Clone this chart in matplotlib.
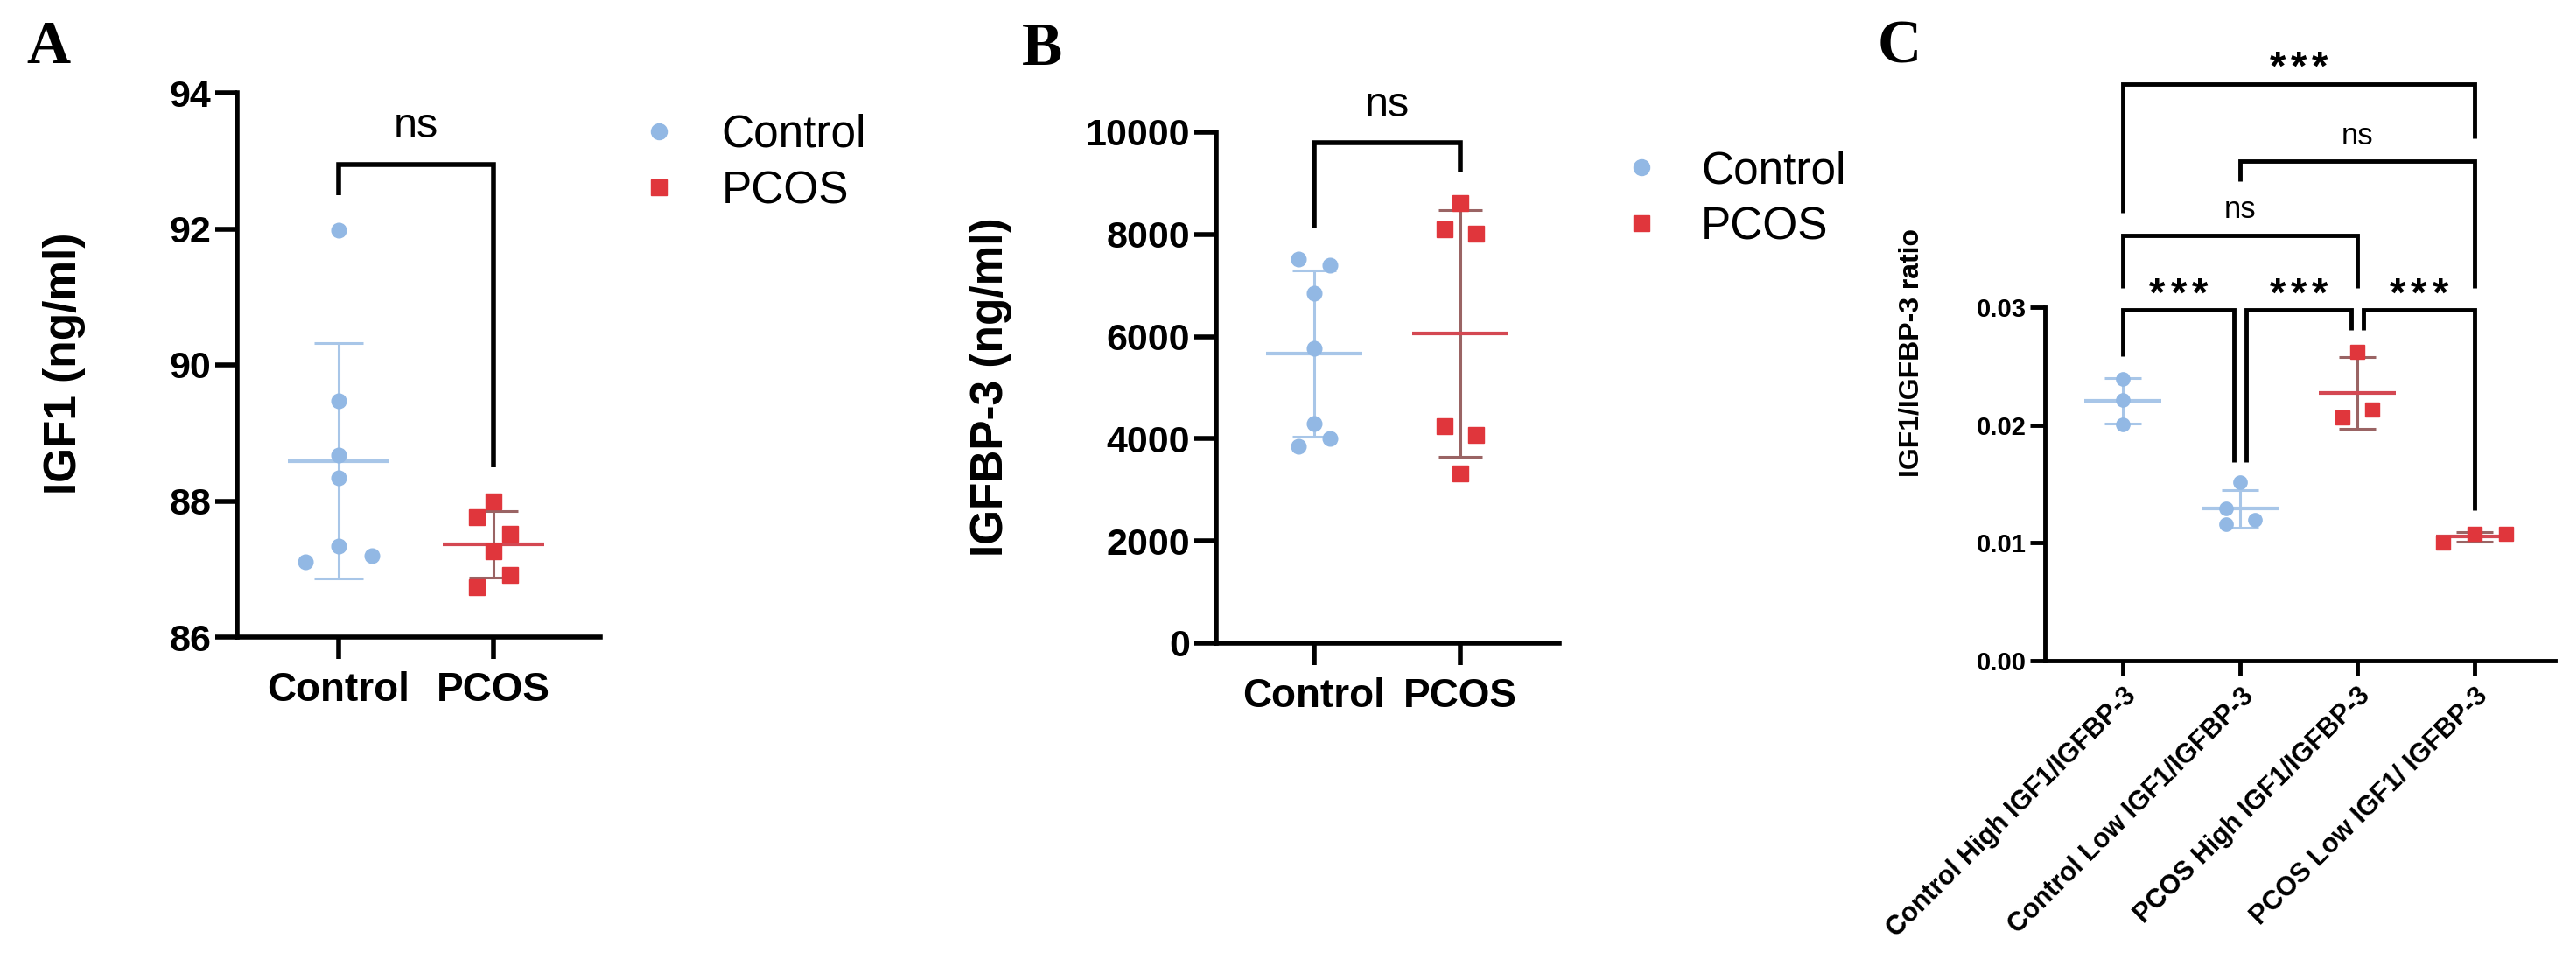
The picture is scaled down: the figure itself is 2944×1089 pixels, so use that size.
import numpy as np
import matplotlib
matplotlib.use('Agg')
import matplotlib.pyplot as plt
from matplotlib.lines import Line2D

plt.rcParams['font.family'] = ['Liberation Sans', 'DejaVu Sans']

# ---- data ----
groups_ab = ['Control', 'PCOS']

# A: IGF1 (ng/ml)
igf1_control = [91.98, 89.47, 88.68, 88.34, 87.34, 87.11, 87.20]
igf1_pcos = [88.00, 87.76, 87.52, 87.26, 86.91, 86.73]
igf1_jit_control = [0, 0, 0, 0, 0, -0.215, 0.215]
igf1_jit_pcos = [0, -0.105, 0.105, 0, 0.105, -0.105]

# B: IGFBP-3 (ng/ml)
bp3_control = [7525, 7391, 6856, 5772, 4305, 3999, 3847]
bp3_pcos = [8609, 8099, 8013, 4239, 4076, 3321]
bp3_jit_control = [-0.108, 0.108, 0, 0, 0, 0.108, -0.108]
bp3_jit_pcos = [0, -0.105, 0.105, -0.105, 0.105, 0]

# C: IGF1/IGFBP-3 ratio
groups_c = ['Control High IGF1/IGFBP-3', 'Control Low IGF1/IGFBP-3',
            'PCOS High IGF1/IGFBP-3', 'PCOS Low IGF1/ IGFBP-3']
ratio_ctrl_high = [0.0239, 0.02215, 0.02006]
ratio_ctrl_low = [0.01514, 0.01292, 0.0116, 0.01194]
ratio_pcos_high = [0.02622, 0.02062, 0.02132]
ratio_pcos_low = [0.01006, 0.01077, 0.01077]
jit_ctrl_high = [0, 0, 0]
jit_ctrl_low = [0, -0.12, -0.12, 0.125]
jit_pcos_high = [0, -0.125, 0.125]
jit_pcos_low = [-0.27, 0, 0.27]

# significance brackets: (x1, x2, bar y, left leg end, right leg end, label, label y)
brackets_a = [(0, 1, 92.95, 92.49, 88.5, 'ns', 93.34)]
brackets_b = [(0, 1, 9786, 8140, 9228, 'ns', 10307)]
brackets_c = [
    (0, 0.95, 0.0298, 0.02585, 0.01686, '***', 0.0310),
    (1.05, 1.95, 0.0298, 0.01686, 0.02806, '***', 0.0310),
    (2.05, 3, 0.0298, 0.02806, 0.01277, '***', 0.0310),
    (0, 2, 0.0361, 0.0316, 0.0316, 'ns', 0.03759),
    (1, 3, 0.0424, 0.0407, 0.0316, 'ns', 0.0438),
    (0, 3, 0.0489, 0.0380, 0.0443, '***', 0.0502),
]

BLUE = '#92b8e4'
BLUE_LINE = '#a8c6e8'
RED = '#e0363c'
RED_LINE = '#d44852'
RED_SD = '#9a6464'

W, H = 2944, 1089
fig = plt.figure(figsize=(W / 100, H / 100), dpi=100)


def axes_px(left, right, top, bottom):
    return fig.add_axes([left / W, 1 - bottom / H, (right - left) / W, (bottom - top) / H])


def style(ax, lw, ticklen, fs, xfs):
    for s in ['top', 'right']:
        ax.spines[s].set_visible(False)
    for s in ['left', 'bottom']:
        ax.spines[s].set_linewidth(lw)
    ax.tick_params(width=lw, length=ticklen, labelsize=fs)
    ax.tick_params(axis='x', labelsize=xfs, pad=10)
    for t in ax.get_yticklabels() + ax.get_xticklabels():
        t.set_fontweight('bold')


def draw_group(ax, pos, values, jitter, color, mean_color, sd_color, marker, ms, half, capsize):
    v = np.array(values)
    m = v.mean()
    s = v.std(ddof=1)
    ax.errorbar(pos, m, yerr=s, fmt='none', ecolor=sd_color, elinewidth=2.2,
                capsize=capsize, capthick=2.2, zorder=2)
    ax.hlines(m, pos - half, pos + half, color=mean_color, lw=3, zorder=2)
    ax.plot(pos + np.array(jitter), v, marker, color=color, mec=color, ms=ms,
            ls='none', zorder=3)


def draw_brackets(ax, brackets, lw, fs):
    for x1, x2, yb, y1, y2, lab, yt in brackets:
        ax.plot([x1, x1, x2, x2], [y1, yb, yb, y2], color='black', lw=lw,
                clip_on=False, solid_joinstyle='miter', solid_capstyle='butt')
        xc = (x1 + x2) / 2
        if lab == '***':
            # three separate stars, spaced like the original
            for k in (-1, 0, 1):
                ax.annotate('*', xy=(xc, yt), xytext=(k * 17.5, 0),
                            textcoords='offset points', ha='center', va='center',
                            fontsize=34, fontweight='bold', annotation_clip=False)
        else:
            ax.text(xc, yt, lab, ha='center', va='baseline', fontsize=fs)


def legend_ab(ax, x, y, pad):
    handles = [Line2D([], [], marker='o', color=BLUE, ls='none', ms=13),
               Line2D([], [], marker='s', color=RED, ls='none', ms=13)]
    ax.legend(handles, groups_ab, loc='upper left', frameon=False,
              bbox_to_anchor=(x / W, 1 - y / H), bbox_transform=fig.transFigure,
              fontsize=37, handlelength=1.0, handletextpad=pad,
              labelspacing=0.3, borderpad=0, borderaxespad=0)


# ---- panel A ----
axA = axes_px(271, 686, 106, 728)
draw_group(axA, 0, igf1_control, igf1_jit_control, BLUE, BLUE_LINE, BLUE_LINE, 'o', 12, 0.33, 20)
draw_group(axA, 1, igf1_pcos, igf1_jit_pcos, RED, RED_LINE, RED_SD, 's', 13, 0.33, 20)
axA.set_ylim(86, 94)
axA.set_yticks([86, 88, 90, 92, 94])
axA.set_xlim(-0.655, 1.689)
axA.set_xticks([0, 1])
axA.set_xticklabels(groups_ab)
style(axA, 4, 18, 31, 33)
axA.set_ylabel('IGF1 (ng/ml)', fontsize=37, fontweight='bold', va='center')
axA.yaxis.set_label_coords(-0.477, 0.502)
draw_brackets(axA, brackets_a, 4, 35)
legend_ab(axA, 727, 130, 0.9)

# ---- panel B ----
axB = axes_px(1390, 1782, 151, 735)
draw_group(axB, 0, bp3_control, bp3_jit_control, BLUE, BLUE_LINE, BLUE_LINE, 'o', 12, 0.33, 18)
draw_group(axB, 1, bp3_pcos, bp3_jit_pcos, RED, RED_LINE, RED_SD, 's', 12.5, 0.33, 18)
axB.set_ylim(0, 10000)
axB.set_yticks([0, 2000, 4000, 6000, 8000, 10000])
axB.set_xlim(-0.671, 1.677)
axB.set_xticks([0, 1])
axB.set_xticklabels(groups_ab)
style(axB, 4, 18, 31, 33)
axB.set_ylabel('IGFBP-3 (ng/ml)', fontsize=37, fontweight='bold', va='center')
axB.yaxis.set_label_coords(-0.658, 0.502)
draw_brackets(axB, brackets_b, 4, 35)
legend_ab(axB, 1850, 171, 0.83)

# ---- panel C ----
axC = axes_px(2337, 2920, 351, 755)
c_sets = [(ratio_ctrl_high, jit_ctrl_high, BLUE, BLUE_LINE, BLUE_LINE, 'o'),
          (ratio_ctrl_low, jit_ctrl_low, BLUE, BLUE_LINE, BLUE_LINE, 'o'),
          (ratio_pcos_high, jit_pcos_high, RED, RED_LINE, RED_SD, 's'),
          (ratio_pcos_low, jit_pcos_low, RED, RED_LINE, RED_SD, 's')]
for i, (vals, jit, col, mcol, scol, mk) in enumerate(c_sets):
    draw_group(axC, i, vals, jit, col, mcol, scol, mk, 11, 0.33, 15)
axC.set_ylim(0, 0.03)
axC.set_yticks([0, 0.01, 0.02, 0.03])
axC.set_yticklabels(['0.00', '0.01', '0.02', '0.03'])
axC.set_xlim(-0.664, 3.687)
axC.set_xticks(range(4))
axC.set_xticklabels(groups_c)
style(axC, 3.5, 12, 21, 22)
axC.tick_params(axis='x', pad=6)
axC.tick_params(axis='y', pad=3)
for t in axC.get_xticklabels():
    t.set_rotation(45)
    t.set_ha('right')
    t.set_va('top')
    t.set_rotation_mode('anchor')
axC.set_ylabel('IGF1/IGFBP-3 ratio', fontsize=23, fontweight='bold', va='center')
axC.yaxis.set_label_coords(-0.262, 0.871)
draw_brackets(axC, brackets_c, 3.5, 25)

# panel letters
for lab, x, y in [('A', 55, 55), ('B', 1191, 57), ('C', 2171, 55)]:
    fig.text(x / W, 1 - y / H, lab, ha='center', va='center', fontsize=50,
             fontweight='bold', family='Liberation Serif')

fig.savefig('out.png', dpi=100)
